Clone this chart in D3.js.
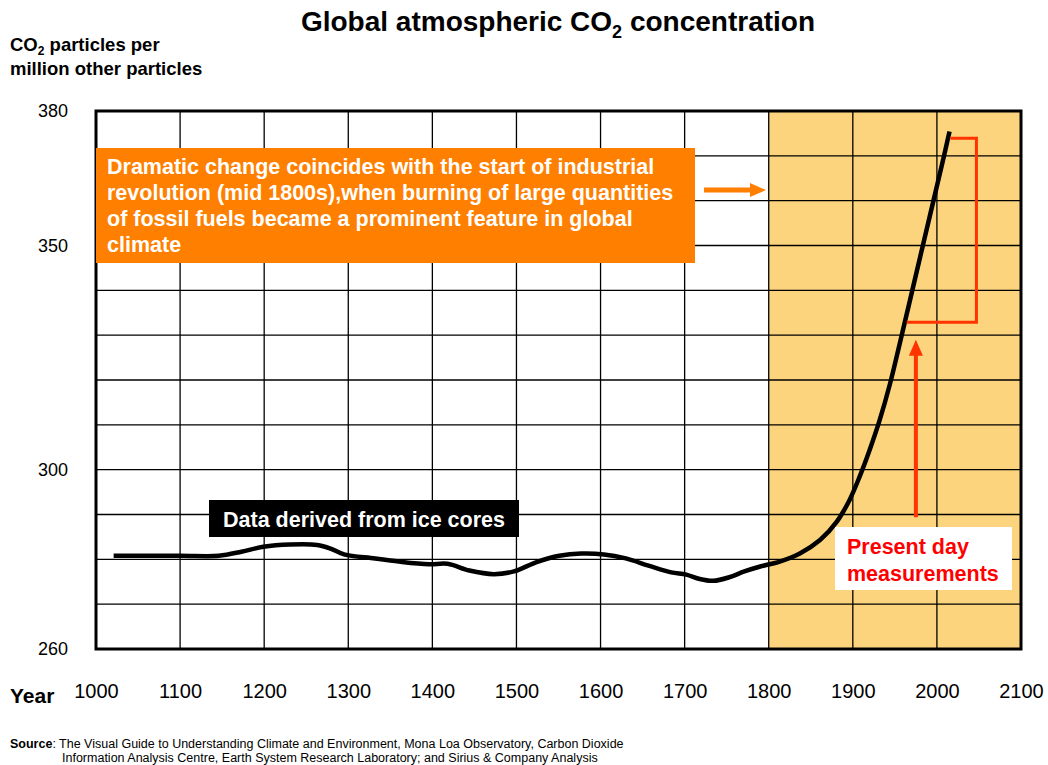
<!DOCTYPE html>
<html>
<head>
<meta charset="utf-8">
<script src="https://cdn.jsdelivr.net/npm/d3@7"></script>
<style>
  html, body { margin: 0; padding: 0; background: #fff; }
  svg { display: block; font-family: "Liberation Sans", Arial, Helvetica, sans-serif; }
</style>
</head>
<body>
<svg id="chart" width="1048" height="765"></svg>
<script>
// CO2 concentration (ppm) by year, from ice cores and direct measurement
const years = [1021, 1100, 1146, 1173, 1199, 1231, 1263, 1279, 1295, 1332, 1364, 1396, 1418, 1444,
  1473, 1497, 1524, 1551, 1577, 1604, 1630, 1657, 1684, 1702, 1718, 1734, 1753, 1771, 1790,
  1813, 1837, 1861, 1881, 1896, 1908, 1920, 1932, 1944, 1954, 1966, 1980, 1994, 2006, 2015];
const ppm = [280.8, 280.8, 280.8, 281.7, 282.8, 283.3, 283.2, 282.4, 281.1, 280.2, 279.4, 278.9,
  279.0, 277.5, 276.7, 277.3, 279.4, 280.8, 281.3, 281.1, 280.2, 278.6, 277.1, 276.6, 275.6,
  275.2, 276.0, 277.3, 278.4, 279.5, 281.3, 284.3, 288.4, 293.2, 298.4, 304.4, 311.1, 319.0,
  326.7, 336.2, 347.4, 358.5, 368.0, 375.4];

const xTickLabels = [1000, 1100, 1200, 1300, 1400, 1500, 1600, 1700, 1800, 1900, 2000, 2100];
const yTickLabels = [380, 350, 300, 260];
const yGridValues = d3.range(260, 381, 10);

// Industrial era band and "present day" bracket, in data units
const industrialEra = [1800, 2100];
const bracketPpm = [332.9, 373.9];
const bracketYears = [1964, 2016, 2047];
const arrowYear = 1975;
const arrowPpm = [289.4, 329];

const svg = d3.select("#chart");
const x = d3.scaleLinear().domain([1000, 2100]).range([96, 1021]);
const y = d3.scaleLinear().domain([260, 380]).range([649, 111]);

// Title
const title = svg.append("text").attr("x", 558).attr("y", 31)
  .attr("text-anchor", "middle").attr("font-size", 28).attr("font-weight", "bold");
title.append("tspan").text("Global atmospheric CO");
title.append("tspan").attr("font-size", 18).attr("dy", 7).text("2");
title.append("tspan").attr("dy", -7).text(" concentration");

// Y axis title
const yt = svg.append("text").attr("x", 10).attr("y", 51)
  .attr("font-size", 18.5).attr("font-weight", "bold");
yt.append("tspan").text("CO");
yt.append("tspan").attr("font-size", 12).attr("dy", 4).text("2");
yt.append("tspan").attr("dy", -4).text(" particles per");
svg.append("text").attr("x", 10).attr("y", 75)
  .attr("font-size", 18.5).attr("font-weight", "bold").text("million other particles");

// Industrial era shading
svg.append("rect")
  .attr("x", x(industrialEra[0])).attr("y", y(380))
  .attr("width", x(industrialEra[1]) - x(industrialEra[0]))
  .attr("height", y(260) - y(380))
  .attr("fill", "#FDD47E");

// Grid
svg.append("g").selectAll("line").data(yGridValues).join("line")
  .attr("x1", x(1000)).attr("x2", x(2100))
  .attr("y1", d => y(d)).attr("y2", d => y(d))
  .attr("stroke", "#000").attr("stroke-width", 1.3);
svg.append("g").selectAll("line").data(xTickLabels).join("line")
  .attr("x1", d => x(d)).attr("x2", d => x(d))
  .attr("y1", y(380)).attr("y2", y(260))
  .attr("stroke", "#000").attr("stroke-width", 1.3);

// Plot frame
svg.append("rect")
  .attr("x", x(1000)).attr("y", y(380))
  .attr("width", x(2100) - x(1000)).attr("height", y(260) - y(380))
  .attr("fill", "none").attr("stroke", "#000").attr("stroke-width", 3);

// Y axis labels
const yAxis = d3.axisLeft(y).tickValues(yTickLabels).tickSize(0).tickPadding(28);
svg.append("g").attr("transform", `translate(${x(1000)},0)`).call(yAxis)
  .call(g => g.select(".domain").remove())
  .call(g => g.selectAll("text").attr("font-size", 18)
    .attr("font-family", "'Liberation Sans', Arial, sans-serif").attr("fill", "#000"));

// X axis labels
const xAxis = d3.axisBottom(x).tickValues(xTickLabels).tickFormat(d3.format("d"))
  .tickSize(0).tickPadding(35);
svg.append("g").attr("transform", `translate(0,${y(260)})`).call(xAxis)
  .call(g => g.select(".domain").remove())
  .call(g => g.selectAll("text").attr("font-size", 20)
    .attr("font-family", "'Liberation Sans', Arial, sans-serif").attr("fill", "#000"));
svg.append("text").attr("x", 10).attr("y", 703)
  .attr("font-size", 21).attr("font-weight", "bold").text("Year");

// CO2 curve
const data = years.map((yr, i) => ({ year: yr, value: ppm[i] }));
const line = d3.line().x(d => x(d.year)).y(d => y(d.value)).curve(d3.curveCatmullRom.alpha(0.5));
svg.append("path").datum(data).attr("d", line)
  .attr("fill", "none").attr("stroke", "#000").attr("stroke-width", 4.5)
  .attr("stroke-linejoin", "round");

// Present-day bracket
const red = "#FF3300";
svg.append("path")
  .attr("d", `M${x(bracketYears[0])},${y(bracketPpm[0])} H${x(bracketYears[2])} V${y(bracketPpm[1])} H${x(bracketYears[1])}`)
  .attr("fill", "none").attr("stroke", red).attr("stroke-width", 3);

// Red arrow
const ax = x(arrowYear);
svg.append("line").attr("x1", ax).attr("x2", ax)
  .attr("y1", y(arrowPpm[0])).attr("y2", y(arrowPpm[1]) + 14)
  .attr("stroke", red).attr("stroke-width", 4);
svg.append("path")
  .attr("d", `M${ax},${y(arrowPpm[1])} L${ax - 7},${y(arrowPpm[1]) + 16} L${ax + 7},${y(arrowPpm[1]) + 16} Z`)
  .attr("fill", red);

// "Present day measurements" label
svg.append("rect").attr("x", 835).attr("y", 527).attr("width", 177).attr("height", 63).attr("fill", "#fff");
svg.append("text").attr("x", 847).attr("y", 554).attr("font-size", 21.5).attr("font-weight", "bold")
  .attr("fill", "#FF0000").text("Present day");
svg.append("text").attr("x", 847).attr("y", 581).attr("font-size", 21.5).attr("font-weight", "bold")
  .attr("fill", "#FF0000").text("measurements");

// Ice core label
svg.append("rect").attr("x", 209).attr("y", 500).attr("width", 310).attr("height", 37).attr("fill", "#000");
svg.append("text").attr("x", 364).attr("y", 527).attr("text-anchor", "middle")
  .attr("font-size", 21.5).attr("font-weight", "bold").attr("fill", "#fff")
  .text("Data derived from ice cores");

// Industrial revolution callout
const orange = "#FF7F00";
svg.append("rect").attr("x", 96).attr("y", 148).attr("width", 599).attr("height", 115).attr("fill", orange);
const calloutLines = [
  "Dramatic change coincides with the start of industrial",
  "revolution (mid 1800s),when burning of large quantities",
  "of fossil fuels became a prominent feature in global",
  "climate"
];
svg.append("g").selectAll("text").data(calloutLines).join("text")
  .attr("x", 107).attr("y", (d, i) => 174 + i * 26)
  .attr("font-size", 21.5).attr("font-weight", "bold").attr("fill", "#fff")
  .text(d => d);
svg.append("line").attr("x1", 704).attr("x2", 752).attr("y1", 190).attr("y2", 190)
  .attr("stroke", orange).attr("stroke-width", 5);
svg.append("path").attr("d", "M766,190 L750,183 L750,197 Z").attr("fill", orange);

// Source note
const src = svg.append("text").attr("x", 10).attr("y", 748).attr("font-size", 12.5);
src.append("tspan").attr("font-weight", "bold").text("Source");
src.append("tspan").text(": The Visual Guide to Understanding Climate and Environment, Mona Loa Observatory, Carbon Dioxide");
svg.append("text").attr("x", 62).attr("y", 762).attr("font-size", 12.5)
  .text("Information Analysis Centre, Earth System Research Laboratory; and Sirius & Company Analysis");
</script>
</body>
</html>
